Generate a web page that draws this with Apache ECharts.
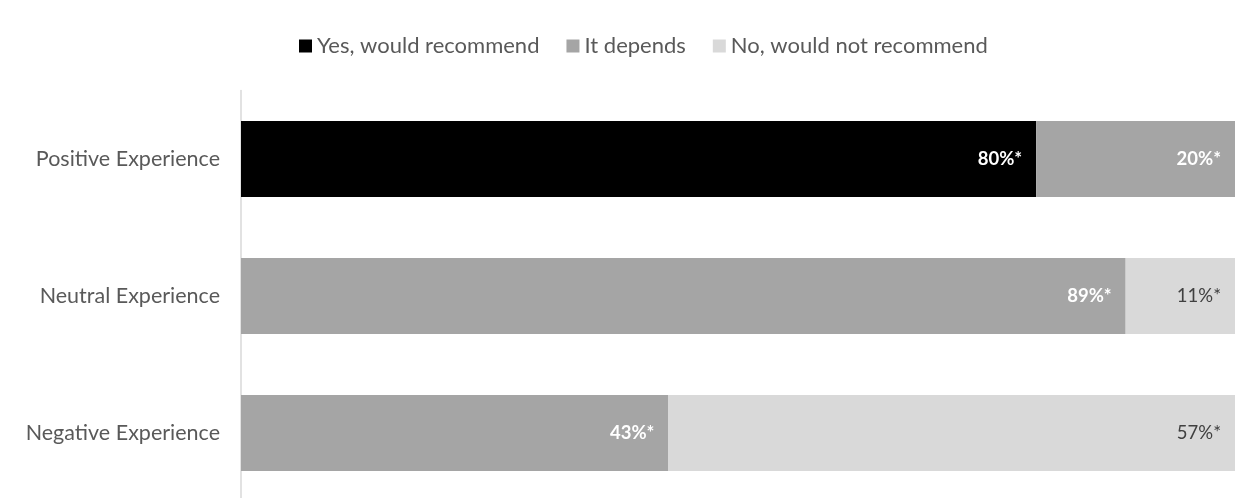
<!DOCTYPE html>
<html><head><meta charset="utf-8">
<script src="https://cdn.jsdelivr.net/npm/echarts@6/dist/echarts.min.js"></script>
<style>html,body{margin:0;padding:0;background:#fff;overflow:hidden}#c{width:1244px;height:504px}</style>
</head><body><div id="c"></div>
<script>
const categories = ['Positive Experience', 'Neutral Experience', 'Negative Experience'];
const seriesNames = ['Yes, would recommend', 'It depends', 'No, would not recommend'];
const yesValues = [80, 0, 0];
const dependsValues = [20, 89, 43];
const noValues = [0, 11, 57];
const colors = ['#000000', '#a5a5a5', '#d9d9d9'];
const labelColors = ['#ffffff', '#ffffff', '#404040'];
const labelWeights = ['bold', 'bold', 'normal'];
const font = 'Lato';

const chart = echarts.init(document.getElementById('c'));
const mk = (name, data, i) => ({
  name, type: 'bar', stack: 'total', data, barWidth: 76,
  itemStyle: { color: colors[i] },
  label: {
    show: true, position: 'insideRight', distance: 14,
    color: labelColors[i], fontFamily: font, fontSize: 18.5, fontWeight: labelWeights[i],
    formatter: p => p.value > 0 ? p.value + '%*' : ''
  },
  emphasis: { disabled: true }
});
chart.setOption({
  animation: false,
  legend: {
    top: 30, left: 294, itemWidth: 13, itemHeight: 13, itemGap: 27,
    icon: 'rect',
    textStyle: { fontFamily: font, fontSize: 22, color: '#595959' },
    data: seriesNames
  },
  grid: { left: 241, right: 9, top: 90.5, height: 411, containLabel: false },
  xAxis: { type: 'value', min: 0, max: 100, show: false },
  yAxis: {
    type: 'category', data: categories, inverse: true,
    axisLine: { show: true, lineStyle: { color: '#d9d9d9', width: 1.5 } },
    axisTick: { show: false },
    axisLabel: { fontFamily: font, fontSize: 21.5, color: '#595959', margin: 21 }
  },
  series: [mk(seriesNames[0], yesValues, 0), mk(seriesNames[1], dependsValues, 1), mk(seriesNames[2], noValues, 2)]
});
</script></body></html>
